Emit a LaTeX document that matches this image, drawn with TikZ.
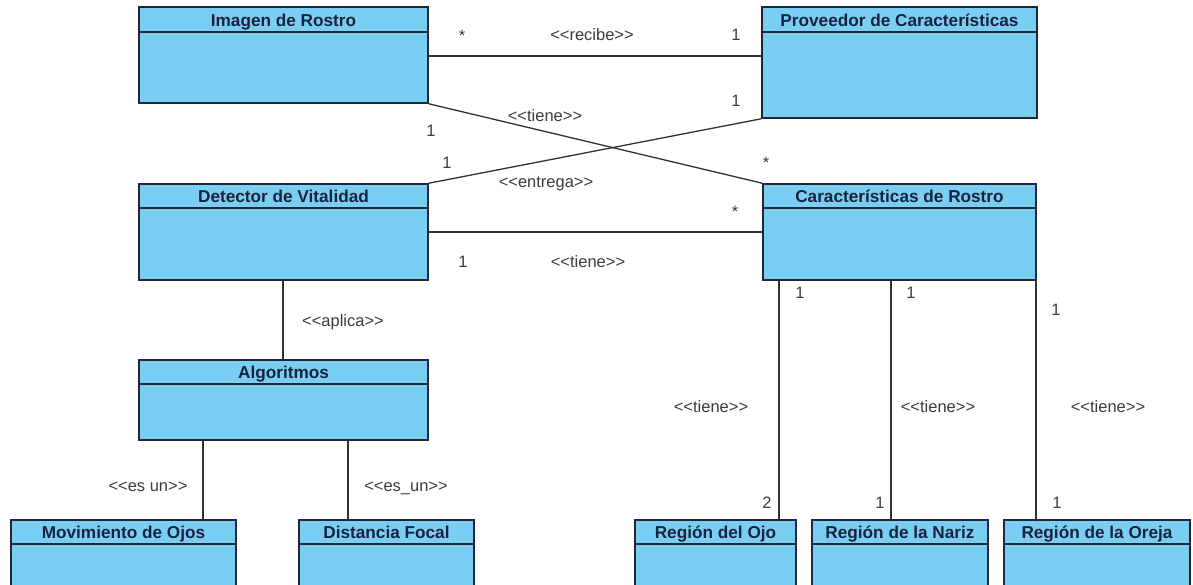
\documentclass[tikz,border=0pt]{standalone}
\usepackage{fontspec}
\setmainfont{Liberation Sans}
\definecolor{clsfill}{RGB}{122,206,244}
\definecolor{clsborder}{RGB}{30,40,55}
\definecolor{hdrtext}{RGB}{22,35,62}
\definecolor{lbltext}{RGB}{60,60,60}
\definecolor{linecol}{RGB}{50,50,50}
\tikzset{
  cls/.style={draw=clsborder, fill=clsfill, line width=1.6pt, inner sep=0pt},
  hdrline/.style={draw=clsborder, line width=1.4pt},
  hdr/.style={font=\fontsize{17.2}{19}\selectfont\bfseries, text=hdrtext, inner sep=0pt, anchor=base},
  lbl/.style={font=\fontsize{16.5}{18}\selectfont, text=lbltext, inner sep=0pt, text height=11.8pt, text depth=0pt},
  conn/.style={draw=linecol, line width=1.3pt}
}
\newcommand{\umlbox}[7]{%
  \node[cls, minimum width={(#4-#2)*1pt}, minimum height={(#5-#3)*1pt}] (#1) at ({(#2+#4)/2},{(#3+#5)/2}) {};
  \draw[hdrline] (#1.north west |- 0,#6) -- (#1.north east |- 0,#6);
  \node[hdr] (#1-t) at ({(#2+#4)/2},{#6-5.5}) {#7};
}
\begin{document}
\begin{tikzpicture}[x=1pt,y=-1pt]
\clip (0,0) rectangle (1193,584);
\fill[white] (0,0) rectangle (1193,584);

\umlbox{img}{139}{7}{428}{103}{32}{Imagen de Rostro}
\umlbox{prov}{762}{7}{1037}{118}{32}{Proveedor de Características}
\umlbox{det}{139}{184}{428}{280}{208}{Detector de Vitalidad}
\umlbox{car}{763}{184}{1036}{280}{208}{Características de Rostro}
\umlbox{alg}{139}{360}{428}{440}{384}{Algoritmos}
\umlbox{mov}{11}{520}{236}{600}{544}{Movimiento de Ojos}
\umlbox{dist}{299}{520}{474}{600}{544}{Distancia Focal}
\umlbox{ojo}{635}{520}{796}{600}{544}{Región del Ojo}
\umlbox{nariz}{812}{520}{988}{600}{544}{Región de la Nariz}
\umlbox{oreja}{1004}{520}{1190}{600}{544}{Región de la Oreja}

% associations
\draw[conn] (img.east |- 0,56) -- (prov.west |- 0,56);
\draw[conn] (img.south east) -- (car.north west);
\draw[conn] (det.north east) -- (prov.south west);
\draw[conn] (det.east |- 0,232) -- (car.west |- 0,232);
\draw[conn] (det.south -| 283,0) -- (alg.north -| 283,0);
\draw[conn] (alg.south -| 203,0) -- (mov.north -| 203,0);
\draw[conn] (alg.south -| 348,0) -- (dist.north -| 348,0);
\draw[conn] (car.south -| 779,0) -- (ojo.north -| 779,0);
\draw[conn] (car.south -| 891,0) -- (nariz.north -| 891,0);
\draw[conn] (car.south -| 1036,0) -- (oreja.north -| 1036,0);

% labels
\node[lbl] (l1) at (462,36) {*};
\node[lbl] (l2) at (592,35) {<{}<recibe>{}>};
\node[lbl] (l3) at (736,35) {1};
\node[lbl] (l4) at (545,116) {<{}<tiene>{}>};
\node[lbl] (l5) at (431,131) {1};
\node[lbl] (l6) at (766,163) {*};
\node[lbl] (l7) at (736,101) {1};
\node[lbl] (l8) at (447,163) {1};
\node[lbl] (l9) at (546,182) {<{}<entrega>{}>};
\node[lbl] (l10) at (735,212) {*};
\node[lbl] (l11) at (463,262) {1};
\node[lbl] (l12) at (588,262) {<{}<tiene>{}>};
\node[lbl] (l13) at (343,321) {<{}<aplica>{}>};
\node[lbl] (l14) at (148,486) {<{}<es un>{}>};
\node[lbl] (l15) at (406,486) {<{}<es\_un>{}>};
\node[lbl] (l16) at (800,293) {1};
\node[lbl] (l17) at (711,407) {<{}<tiene>{}>};
\node[lbl] (l18) at (767,503) {2};
\node[lbl] (l19) at (911,293) {1};
\node[lbl] (l20) at (938,407) {<{}<tiene>{}>};
\node[lbl] (l21) at (880,503) {1};
\node[lbl] (l22) at (1056,310) {1};
\node[lbl] (l23) at (1108,407) {<{}<tiene>{}>};
\node[lbl] (l24) at (1057,503) {1};
\end{tikzpicture}
\end{document}
